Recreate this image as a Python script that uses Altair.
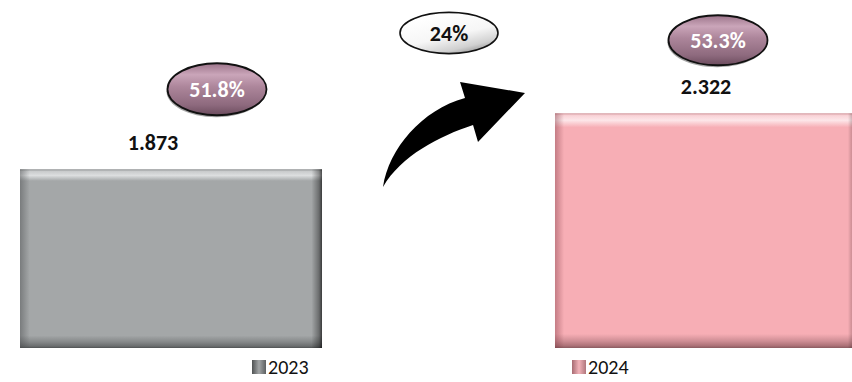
import altair as alt
import pandas as pd

# Values shown on the chart
years = ["2023", "2024"]
values = [1.873, 2.322]
shares = ["51.8%", "53.3%"]
growth = ["24%"]

df = pd.DataFrame({"year": years, "value": values, "share": shares})
growth_df = pd.DataFrame({"growth": growth})

FONT = "Carlito, Lato, sans-serif"

# Scales: two wide bands, value axis not starting at zero
Y_DOMAIN = [0.44, 3.23]
x_scale = alt.Scale(domain=years, range=[20, 857], paddingInner=0.4355, paddingOuter=0)
y_scale = alt.Scale(domain=Y_DOMAIN, range=[348, 0], zero=False, nice=False)


def grad(stops, x1=0, y1=0, x2=0, y2=1):
    return alt.LinearGradient(
        gradient="linear",
        stops=[alt.GradientStop(offset=o, color=c) for o, c in stops],
        x1=x1, y1=y1, x2=x2, y2=y2,
    )


def ellipse_path(ry):
    return f"M-1,0A1,{ry} 0 1,1 1,0A1,{ry} 0 1,1 -1,0Z"


# Bevelled bar styling per year
BAR_STYLE = {
    "2023": {
        "vertical": [(0, "#8f9293"), (0.012, "#c9cbcc"), (0.035, "#dcdedf"), (0.065, "#a4a7a8"),
                     (0.93, "#a4a7a8"), (0.965, "#86898a"), (0.99, "#6a6d6e"), (1, "#4e5152")],
        "side": [(0, "rgba(70,72,74,0.45)"), (0.032, "rgba(70,72,74,0)"), (0.965, "rgba(0,0,0,0)"),
                 (0.99, "rgba(0,0,0,0.35)"), (1, "rgba(0,0,0,0.65)")],
        "swatch": [(0, "#4f5253"), (0.5, "#a2a5a6"), (1, "#5c5f60")],
        "label_dx": -18, "ell_dx": 46, "ell_dy": -80, "ell_ry": 0.525,
    },
    "2024": {
        "vertical": [(0, "#d39aa0"), (0.01, "#f9d3d7"), (0.03, "#fde6e9"), (0.06, "#f7aeb5"),
                     (0.94, "#f7aeb5"), (0.97, "#cf8e95"), (0.99, "#ad7278"), (1, "#8a5a60")],
        "side": [(0, "rgba(120,50,60,0.4)"), (0.03, "rgba(120,50,60,0)"), (0.97, "rgba(0,0,0,0)"),
                 (0.99, "rgba(60,20,30,0.3)"), (1, "rgba(60,20,30,0.55)")],
        "swatch": [(0, "#a76b72"), (0.5, "#f2b3b9"), (1, "#b0767c")],
        "label_dx": 0, "ell_dx": 12, "ell_dy": -73, "ell_ry": 0.505,
    },
}

MAUVE = [(0, "#9c748a"), (0.22, "#caa5b9"), (0.45, "#ad869b"), (0.8, "#8e6a7e"), (1, "#6c4c5e")]

layers = []
for yr in years:
    st = BAR_STYLE[yr]
    base = alt.Chart(df).transform_filter(alt.datum.year == yr)
    enc = dict(
        x=alt.X("year:N", scale=x_scale, axis=None),
        y=alt.Y("value:Q", scale=y_scale, axis=None),
    )
    layers.append(base.mark_bar(fill=grad(st["vertical"]), opacity=1).encode(
        y2=alt.datum(Y_DOMAIN[0]), **enc))
    layers.append(base.mark_bar(fill=grad(st["side"], x1=0, y1=0, x2=1, y2=0), opacity=1).encode(
        y2=alt.datum(Y_DOMAIN[0]), **enc))
    # value label above the bar
    layers.append(base.mark_text(font=FONT, fontSize=22, fontWeight="bold", color="#111111",
                                 baseline="alphabetic", dx=st["label_dx"], dy=-19).encode(
        text="value:Q", **enc))
    # share bubble with a soft shadow underneath
    layers.append(base.mark_point(shape=ellipse_path(st["ell_ry"]), size=99 ** 2, filled=True,
                                  fill="#3a3a3a", opacity=0.45,
                                  xOffset=st["ell_dx"] - 1, yOffset=st["ell_dy"] + 2).encode(**enc))
    layers.append(base.mark_point(shape=ellipse_path(st["ell_ry"]), size=99 ** 2, filled=True,
                                  fill=grad(MAUVE), stroke="#111111", strokeWidth=1.8, opacity=1,
                                  xOffset=st["ell_dx"], yOffset=st["ell_dy"]).encode(**enc))
    layers.append(base.mark_text(font=FONT, fontSize=22, fontWeight="bold", color="white",
                                 baseline="middle", dx=st["ell_dx"], dy=st["ell_dy"] + 1).encode(
        text="share:N", **enc))

# Growth arrow between the bars
ARROW = ("M-1,0.739 C-0.92,0.2 -0.45,-0.35 0.155,-0.514 L0.085,-0.739 L1,-0.585 "
         "L0.338,0.106 L0.268,-0.134 C-0.2,0.02 -0.75,0.3 -1,0.739Z")
gbase = alt.Chart(growth_df)
layers.append(gbase.mark_point(shape=ARROW, size=142 ** 2, filled=True, fill="black", opacity=1,
                               strokeWidth=0).encode(x=alt.value(454), y=alt.value(134.5)))
layers.append(gbase.mark_point(shape=ellipse_path(0.42), size=98 ** 2, filled=True,
                               fill=grad([(0, "#ffffff"), (0.5, "#f6f6f6"), (0.8, "#d0d0d0"), (1, "#8c8c8c")],
                                         x1=0.3, y1=0.1, x2=0.8, y2=1),
                               stroke="#111111", strokeWidth=1.6, opacity=1).encode(
    x=alt.value(449), y=alt.value(33)))
layers.append(gbase.mark_text(font=FONT, fontSize=22, fontWeight="bold", color="#111111",
                              baseline="middle").encode(
    text="growth:N", x=alt.value(449), y=alt.value(34)))

# Legend entries under each bar
LEGEND_X = {"2023": 259, "2024": 579}
for yr in years:
    st = BAR_STYLE[yr]
    lbase = alt.Chart(df).transform_filter(alt.datum.year == yr)
    layers.append(lbase.mark_square(size=14 ** 2, filled=True, opacity=1,
                                    fill=grad(st["swatch"], x1=0, y1=0, x2=1, y2=0)).encode(
        x=alt.value(LEGEND_X[yr]), y=alt.value(367)))
    layers.append(lbase.mark_text(font=FONT, fontSize=20, color="#111111", align="left",
                                  baseline="alphabetic").encode(
        text="year:N", x=alt.value(LEGEND_X[yr] + 9), y=alt.value(374)))

chart = (
    alt.layer(*layers)
    .properties(width=852, height=382, padding=0, autosize="none", background="white")
    .configure_view(stroke=None)
)

chart.save("out.html", embed_options={"renderer": "svg", "actions": False})
